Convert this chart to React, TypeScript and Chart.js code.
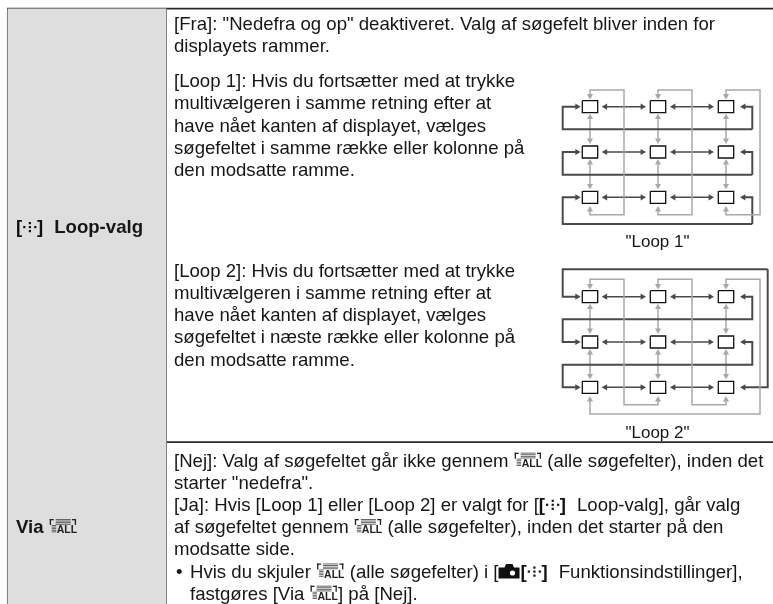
import React, { useEffect, useRef } from "react";
import { Chart, registerables } from "chart.js";

Chart.register(...registerables);

const W = 773;
const H = 604;
const gridX = [590, 658, 726];
const loop1Y = [106.7, 152, 197.3];
const loop2Y = [296.7, 342, 387.3];
const boxHalfW = 7.7;
const boxHalfH = 6;
const DARK = "#4a4a4a";
const GREY = "#a8a8a8";
const RULE = "#2a2a2a";

const tableFrame = [[7, 8.7], [773, 8.7]];
const columnRule = [[166.3, 8.7], [166.3, 604]];
const leftRule = [[7.7, 8.7], [7.7, 604]];
const rowRule = [[7, 442.2], [773, 442.2]];
const shade = [[7.5, 8.5], [166.5, 8.5], [166.5, 604], [7.5, 604], [7.5, 8.5]];

const bodyX = 174;
const bodyLines: [number, number, string][] = [
  [bodyX, 30, '[Fra]: "Nedefra og op" deaktiveret. Valg af søgefelt bliver inden for'],
  [bodyX, 52, "displayets rammer."],
  [bodyX, 87, "[Loop 1]: Hvis du fortsætter med at trykke"],
  [bodyX, 109.3, "multivælgeren i samme retning efter at"],
  [bodyX, 131.5, "have nået kanten af displayet, vælges"],
  [bodyX, 153.7, "søgefeltet i samme række eller kolonne på"],
  [bodyX, 176, "den modsatte ramme."],
  [bodyX, 276.7, "[Loop 2]: Hvis du fortsætter med at trykke"],
  [bodyX, 299, "multivælgeren i samme retning efter at"],
  [bodyX, 321, "have nået kanten af displayet, vælges"],
  [bodyX, 343.3, "søgefeltet i næste række eller kolonne på"],
  [bodyX, 365.5, "den modsatte ramme."],
  [bodyX, 466.7, "[Nej]: Valg af søgefeltet går ikke gennem {all} (alle søgefelter), inden det"],
  [bodyX, 488.7, 'starter "nedefra".'],
  [bodyX, 510.7, "[Ja]: Hvis [Loop 1] eller [Loop 2] er valgt for [{focus} Loop-valg], går valg"],
  [bodyX, 533, "af søgefeltet gennem {all} (alle søgefelter), inden det starter på den"],
  [bodyX, 555.2, "modsatte side."],
  [176, 577.5, "•"],
  [190, 577.5, "Hvis du skjuler {all} (alle søgefelter) i [{cam}{focus} Funktionsindstillinger],"],
  [190, 599.7, "fastgøres [Via {all}] på [Nej]."],
];
const headLines: [number, number, string][] = [
  [16, 233, "{focus} Loop-valg"],
  [16, 533, "Via {all}"],
];
const captions: [number, number, string][] = [
  [657.5, 246.5, '"Loop 1"'],
  [657.5, 437.5, '"Loop 2"'],
];

type Pt = number[];
const datasets: any[] = [];

function poly(points: Pt[], color: string, width: number, start = false, end = false, fill: any = false, bg = "transparent") {
  const r = 3.6;
  const pts = points.map((p) => [...p]);
  const radius = pts.map(() => 0);
  const rot = pts.map(() => 0);
  const head = (i: number, j: number) => {
    const dx = pts[i][0] - pts[j][0];
    const dy = pts[i][1] - pts[j][1];
    const len = Math.hypot(dx, dy) || 1;
    rot[i] = (Math.atan2(dy, dx) * 180) / Math.PI + 90;
    radius[i] = r;
    pts[i][0] -= (dx / len) * r;
    pts[i][1] -= (dy / len) * r;
  };
  if (start) head(0, 1);
  if (end) head(pts.length - 1, pts.length - 2);
  datasets.push({
    data: pts.map(([x, y]) => ({ x, y })),
    showLine: true,
    borderColor: color,
    borderWidth: width,
    backgroundColor: bg,
    fill,
    tension: 0,
    borderJoinStyle: "miter",
    pointStyle: "triangle",
    pointRadius: radius,
    pointHoverRadius: radius,
    pointRotation: rot,
    pointBackgroundColor: color,
    pointBorderColor: color,
    pointBorderWidth: 0,
    clip: false,
  });
}

poly(shade, "transparent", 0, false, false, "shape", "#dedede");
poly(tableFrame, RULE, 1.7);
poly(leftRule, RULE, 1.5);
poly(columnRule, RULE, 1.4);
poly(rowRule, RULE, 1.7);

const [x1, x2, x3] = gridX;
const leftRail = 562.7;
const rightRail = 752.3;
const inTip = 580.7;
const outTip = 740;

function commonGrid(rows: number[]) {
  rows.forEach((y, r) => {
    poly([[601.7, y], [646, y]], DARK, 1.6, true, true);
    poly([[670, y], [714, y]], DARK, 1.6, true, true);
    if (r < 2) {
      gridX.forEach((x) => poly([[x, y + 7], [x, rows[r + 1] - 8]], GREY, 1.5, true, true));
    }
  });
}

// Loop 1
const l1Rows = [129.3, 174.7, 224];
const topGrey1 = 90;
const botGrey1 = 214.7;
[[x1, 624], [x2, 692], [x3, 760]].forEach(([x, far]) => {
  poly([[x, botGrey1 - 8.7], [x, botGrey1], [far, botGrey1], [far, topGrey1], [x, topGrey1], [x, 99.5]], GREY, 1.5, true, true);
});
loop1Y.forEach((y, r) => {
  poly([[rightRail, l1Rows[r]], [leftRail, l1Rows[r]], [leftRail, y], [inTip, y]], DARK, 2, false, true);
  poly([[rightRail, l1Rows[r]], [rightRail, y], [outTip, y]], DARK, 2, false, true);
});
commonGrid(loop1Y);

// Loop 2
const outerTop = 269.3;
const outerRight = 767.7;
const topGrey2 = 279.3;
const botGrey2 = 404.7;
poly([[x1, 289.5], [x1, topGrey2], [624, topGrey2], [624, botGrey2], [x2, botGrey2], [x2, 396]], GREY, 1.5, true, true);
poly([[x2, 289.5], [x2, topGrey2], [692, topGrey2], [692, botGrey2], [x3, botGrey2], [x3, 396]], GREY, 1.5, true, true);
poly([[x3, 289.5], [x3, topGrey2], [760, topGrey2], [760, 414], [x1, 414], [x1, 396]], GREY, 1.5, true, true);
poly([[outerRight, outerTop], [leftRail, outerTop], [leftRail, loop2Y[0]], [inTip, loop2Y[0]]], DARK, 2, false, true);
poly([[outerRight, outerTop], [outerRight, loop2Y[2]], [outTip, loop2Y[2]]], DARK, 2, false, true);
poly([[outTip, loop2Y[0]], [rightRail, loop2Y[0]], [rightRail, 319.3], [leftRail, 319.3], [leftRail, loop2Y[1]], [inTip, loop2Y[1]]], DARK, 2, true, true);
poly([[outTip, loop2Y[1]], [rightRail, loop2Y[1]], [rightRail, 364.7], [leftRail, 364.7], [leftRail, loop2Y[2]], [inTip, loop2Y[2]]], DARK, 2, true, true);
commonGrid(loop2Y);

// focus boxes
[...loop1Y, ...loop2Y].forEach((y) =>
  gridX.forEach((x) =>
    poly(
      [[x - boxHalfW, y - boxHalfH], [x + boxHalfW, y - boxHalfH], [x + boxHalfW, y + boxHalfH], [x - boxHalfW, y + boxHalfH], [x - boxHalfW, y - boxHalfH]],
      "#111111",
      1.3
    )
  )
);

const FAMILY = '"Liberation Sans", Arial, sans-serif';
const SIZE = 18.6;
const CAPTION = 17;
const INK = "#161616";

function drawAll(ctx: CanvasRenderingContext2D, x: number, y: number) {
  ctx.save();
  ctx.fillStyle = "#222";
  ctx.fillRect(x + 1, y - 14, 1.3, 6);
  ctx.fillRect(x + 1, y - 14, 4, 1.3);
  ctx.fillRect(x + 26, y - 14, 1.3, 6);
  ctx.fillRect(x + 23.3, y - 14, 4, 1.3);
  ctx.fillStyle = "#555";
  for (let r = 0; r < 4; r++) ctx.fillRect(x + 7, y - 14 + r * 1.6, 15, 0.9);
  for (let r = 0; r < 5; r++) ctx.fillRect(x + 3, y - 8 + r * 1.6, 4.5, 0.9);
  ctx.fillStyle = "#222";
  ctx.font = `bold 10.5px "Liberation Sans"`;
  ctx.fillText("ALL", x + 8, y);
  ctx.restore();
  return 28.5;
}
function drawFocus(ctx: CanvasRenderingContext2D, x: number, y: number) {
  ctx.save();
  ctx.font = `bold ${SIZE}px ${FAMILY}`;
  ctx.fillStyle = "#111";
  ctx.fillText("[", x, y);
  ctx.fillText("]", x + 21, y);
  const d = (a: number, b: number) => ctx.fillRect(x + a, y + b, 2.2, 2.2);
  d(7.2, -7);
  d(12.8, -11);
  d(12.8, -7);
  d(12.8, -3);
  d(18.2, -7);
  ctx.restore();
  return 33;
}
function drawCam(ctx: CanvasRenderingContext2D, x: number, y: number) {
  ctx.save();
  ctx.fillStyle = "#111";
  ctx.beginPath();
  ctx.moveTo(x, y - 10);
  ctx.lineTo(x + 6, y - 10);
  ctx.lineTo(x + 7.5, y - 13.5);
  ctx.lineTo(x + 14, y - 13.5);
  ctx.lineTo(x + 15.5, y - 10);
  ctx.lineTo(x + 21, y - 10);
  ctx.lineTo(x + 21, y + 1);
  ctx.lineTo(x, y + 1);
  ctx.closePath();
  ctx.fill();
  ctx.fillStyle = "#fff";
  ctx.beginPath();
  ctx.arc(x + 14, y - 4.5, 2.6, 0, Math.PI * 2);
  ctx.fill();
  ctx.restore();
  return 22;
}

function run(ctx: CanvasRenderingContext2D, x: number, y: number, text: string, bold = false) {
  ctx.font = `${bold ? "bold " : ""}${SIZE}px ${FAMILY}`;
  ctx.fillStyle = INK;
  ctx.textBaseline = "alphabetic";
  let cx = x;
  text.split(/(\{\w+\})/).forEach((part) => {
    if (part === "{all}") cx += drawAll(ctx, cx, y);
    else if (part === "{focus}") cx += drawFocus(ctx, cx, y);
    else if (part === "{cam}") cx += drawCam(ctx, cx, y);
    else if (part) {
      ctx.fillText(part, cx, y);
      cx += ctx.measureText(part).width;
    }
  });
}

const textPlugin = {
  id: "docText",
  afterDatasetsDraw(chart: any) {
    const { ctx, scales } = chart;
    const px = (v: number) => scales.x.getPixelForValue(v);
    const py = (v: number) => scales.y.getPixelForValue(v);
    ctx.save();
    bodyLines.forEach(([x, y, t]) => run(ctx, px(x), py(y), t));
    headLines.forEach(([x, y, t]) => run(ctx, px(x), py(y), t, true));
    ctx.font = `${CAPTION}px ${FAMILY}`;
    ctx.fillStyle = INK;
    ctx.textAlign = "center";
    captions.forEach(([x, y, t]) => ctx.fillText(t, px(x), py(y)));
    ctx.restore();
  },
};

export default function App() {
  const ref = useRef<HTMLCanvasElement>(null);
  useEffect(() => {
    const chart = new Chart(ref.current!, {
      type: "scatter",
      data: { datasets },
      options: {
        animation: false,
        responsive: false,
        devicePixelRatio: 1,
        layout: { padding: 0, autoPadding: false },
        plugins: { legend: { display: false }, tooltip: { enabled: false } },
        scales: {
          x: { type: "linear", display: false, min: 0, max: W },
          y: { type: "linear", display: false, min: 0, max: H, reverse: true },
        },
      },
      plugins: [textPlugin],
    } as any);
    return () => chart.destroy();
  }, []);
  return (
    <canvas
      ref={ref}
      width={W}
      height={H}
      style={{ position: "fixed", left: 0, top: 0, width: W, height: H, background: "#fff" }}
    />
  );
}
